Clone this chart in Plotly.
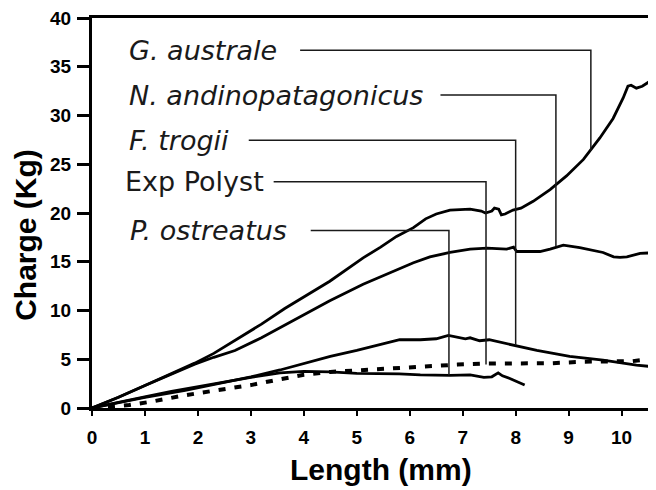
import plotly.graph_objects as go

# ---- data ----
g_x = [0, 0.5, 1.0, 1.5, 1.94, 2.3, 2.7, 3.2, 3.64, 4.0, 4.49, 5.12, 5.45, 5.75, 6.07, 6.3, 6.5, 6.76,
       7.14, 7.35, 7.43, 7.55, 7.6, 7.68, 7.73, 7.8, 7.95, 8.1, 8.33, 8.65, 8.96, 9.28, 9.59, 9.84,
       10.03, 10.12, 10.18, 10.28, 10.39, 10.53, 10.65]
g_y = [0, 1.1, 2.3, 3.5, 4.6, 5.6, 6.9, 8.6, 10.2, 11.4, 13.0, 15.4, 16.5, 17.6, 18.5, 19.4, 19.9, 20.3,
       20.4, 20.2, 20.0, 20.2, 20.5, 20.4, 19.8, 19.9, 20.3, 20.5, 21.2, 22.4, 23.8, 25.5, 27.7, 29.7,
       31.8, 33.0, 33.1, 32.8, 33.0, 33.5, 34.2]

n_x = [0, 0.5, 1.0, 1.5, 1.94, 2.3, 2.7, 3.2, 3.64, 4.0, 4.49, 5.12, 5.75, 6.07, 6.38, 6.76, 7.14,
       7.46, 7.83, 7.96, 8.02, 8.46, 8.65, 8.9, 9.21, 9.65, 9.85, 9.97, 10.1, 10.35, 10.65]
n_y = [0, 1.1, 2.3, 3.5, 4.5, 5.2, 5.9, 7.2, 8.5, 9.6, 11.0, 12.7, 14.2, 14.9, 15.5, 15.95, 16.3,
       16.4, 16.3, 16.5, 16.05, 16.05, 16.3, 16.7, 16.45, 15.95, 15.5, 15.45, 15.5, 15.85, 15.95]

f_x = [0, 0.5, 1.0, 1.76, 2.5, 3.0, 3.55, 4.0, 4.5, 5.0, 5.5, 5.81, 6.2, 6.5, 6.73, 6.9, 7.05, 7.14,
       7.32, 7.5, 8.02, 8.4, 9.02, 9.65, 10.28, 10.65]
f_y = [0, 0.55, 1.1, 1.8, 2.6, 3.2, 3.9, 4.6, 5.3, 5.9, 6.6, 7.0, 7.0, 7.1, 7.45, 7.3, 7.1, 7.2,
       6.9, 7.0, 6.4, 5.9, 5.3, 4.9, 4.4, 4.2]

e_x = [0, 0.5, 0.7, 1.12, 1.75, 2.57, 3.0, 3.55, 4.0, 4.5, 5.0, 5.5, 6.2, 6.9, 7.4, 8.0, 8.7, 9.3,
       9.8, 10.2, 10.53, 10.65]
e_y = [0, 0.15, 0.3, 0.65, 1.3, 2.0, 2.35, 2.95, 3.4, 3.7, 3.85, 4.0, 4.3, 4.45, 4.55, 4.55, 4.6, 4.75,
       4.75, 4.8, 5.0, 5.2]

p_x = [0, 0.5, 1.04, 1.5, 2.02, 2.5, 3.0, 3.55, 4.0, 4.5, 5.0, 5.8, 6.2, 6.76, 7.14, 7.4, 7.55, 7.67,
       7.75, 7.89, 8.17]
p_y = [0, 0.6, 1.2, 1.7, 2.2, 2.7, 3.15, 3.6, 3.75, 3.7, 3.55, 3.5, 3.4, 3.35, 3.4, 3.15, 3.2, 3.6,
       3.3, 3.03, 2.35]

labels = ["G. australe", "N. andinopatagonicus", "F. trogii", "Exp Polyst", "P. ostreatus"]
label_italic = [True, True, True, False, True]
label_x = [0.654, 0.654, 0.654, 0.585, 0.687]
label_y = [36.7, 32.1, 27.45, 23.2, 18.2]
leader_start_x = [3.93, 6.58, 2.96, 3.43, 4.13]
leader_x = [9.42, 8.76, 8.0, 7.44, 6.74]
leader_end_y = [26.4, 16.6, 6.43, 4.45, 3.37]

x_ticks = list(range(0, 11))
y_ticks = list(range(0, 41, 5))

fig = go.Figure()

curve_style = dict(color="black", width=2.8)
for xs, ys, name in [(g_x, g_y, labels[0]), (n_x, n_y, labels[1]), (f_x, f_y, labels[2]),
                     (p_x, p_y, labels[4])]:
    fig.add_trace(go.Scatter(x=xs, y=ys, mode="lines", line=curve_style, name=name,
                             showlegend=False, hoverinfo="skip"))
fig.add_trace(go.Scatter(x=e_x, y=e_y, mode="lines", name=labels[3], showlegend=False,
                         line=dict(color="black", width=4, dash="7px,9px"), hoverinfo="skip"))

# leader lines
for i in range(len(labels)):
    fig.add_trace(go.Scatter(
        x=[leader_start_x[i], leader_x[i], leader_x[i]],
        y=[label_y[i], label_y[i], leader_end_y[i]],
        mode="lines", line=dict(color="#1a1a1a", width=1.5), showlegend=False, hoverinfo="skip"))

annotations = []
for i, t in enumerate(labels):
    annotations.append(dict(
        x=label_x[i], y=label_y[i], xref="x", yref="y", text=t, showarrow=False,
        xanchor="left", yanchor="middle",
        font=dict(family="DejaVu Sans", size=27, color="#1a1a1a",
                  style="italic" if label_italic[i] else "normal")))

annotations.append(dict(x=0.5124, y=-0.158, xref="paper", yref="paper", text="Length (mm)",
                        showarrow=False, xanchor="center", yanchor="middle",
                        font=dict(family="Liberation Sans, Arial", size=30, color="black", weight="bold")))
annotations.append(dict(x=-0.117, y=0.444, xref="paper", yref="paper", text="Charge (Kg)",
                        showarrow=False, xanchor="center", yanchor="middle", textangle=-90,
                        font=dict(family="Liberation Sans, Arial", size=30, color="black", weight="bold")))

# the page body has a default 8px margin, so the figure is sized/offset to compensate
fig.update_layout(
    width=648, height=482,
    margin=dict(l=84, r=0, t=8, b=82),
    paper_bgcolor="white", plot_bgcolor="white",
    annotations=annotations,
    showlegend=False,
)
fig.update_xaxes(range=[0, 10.65], tickvals=x_ticks, ticktext=[str(v) for v in x_ticks],
                 showgrid=False, zeroline=False, showline=True, linecolor="black", linewidth=2.5,
                 mirror=True, ticks="outside", ticklen=5, tickwidth=2.2, tickcolor="black",
                 ticklabelstandoff=5, ticklabeloverflow="allow",
                 tickfont=dict(family="Liberation Sans, Arial", size=19, color="black", weight="bold"))
fig.update_yaxes(range=[0, 40], tickvals=y_ticks, ticktext=[str(v) for v in y_ticks],
                 showgrid=False, zeroline=False, showline=True, linecolor="black", linewidth=3,
                 ticks="outside", ticklen=12, tickwidth=2.5, tickcolor="black",
                 ticklabelstandoff=2, ticklabeloverflow="allow",
                 tickfont=dict(family="Liberation Sans, Arial", size=19, color="black", weight="bold"))

fig.write_html("out.html")
